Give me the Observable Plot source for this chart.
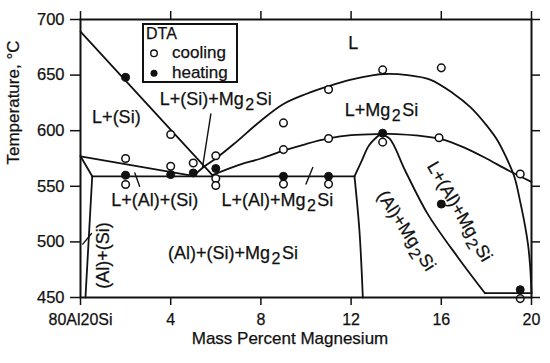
<!DOCTYPE html>
<html><head><meta charset="utf-8">
<script src="https://cdn.jsdelivr.net/npm/d3@7"></script>
<script src="https://cdn.jsdelivr.net/npm/@observablehq/plot@0.6"></script>
<style>
body{margin:0;background:#fff;}
#wrap{position:relative;width:550px;height:363px;font-family:"Liberation Sans",Arial,sans-serif;}
#legend{position:absolute;left:142px;top:23px;}
#wrap text{stroke:#111;stroke-width:0.25px;}
</style>
</head><body>
<div id="wrap"></div>
<script>
// ---- axes ----
const xTicks = [0, 4, 8, 12, 16, 20];
const xTickLabels = ["80Al20Si", "4", "8", "12", "16", "20"];
const yTicks = [450, 500, 550, 600, 650, 700];
const xTitle = "Mass Percent Magnesium";
const yTitle = "Temperature, °C";

// ---- phase boundaries [mass % Mg, °C] ----
const siLiquidus = [[0, 689], [5.85, 560]];
const alSiTrough = [[0, 577], [4.8, 560]];
const leftSolidus = [[0, 577], [0.52, 559]];
const alSiSolvus = [[0.52, 559], [0.22, 450]];
const eutecticLine = [[0.52, 559], [12.15, 559]];
const mg2siLiquidus = [[5.1, 561], [5.5, 568], [6, 575], [6.8, 588], [8, 609], [9, 624], [10, 633], [11, 640], [12, 646], [13, 650], [13.5, 651], [14.5, 650], [15.5, 646], [16.5, 634], [17.3, 621], [18, 605], [18.5, 591], [18.9, 575], [19.25, 558], [19.5, 536], [19.7, 516], [19.85, 497], [19.94, 478], [20, 454]];
const mg2siTrough = [[5.85, 560], [7, 569], [8, 575], [9, 582], [10, 588], [11, 593], [12, 596], [13.3, 597], [14, 597], [15, 595.5], [16, 592.5], [17, 585], [18, 575], [19, 564], [20, 554]];
const peakLeft = [[12.15, 559], [12.45, 572], [12.8, 587], [13.3, 597]];
const peakRight = [[13.3, 597], [13.7, 593], [14.4, 564], [15.4, 525], [16.74, 486], [17.93, 454]];
const alMg2siSolvus = [[12.15, 559], [12.37, 510], [12.52, 450]];
const bottomRight = [[17.93, 454], [20, 454]];
const pointers = [
  [[5.78, 615], [5.41, 567]],
  [[2.41, 562], [2.62, 550]],
  [[10.3, 567], [10.0, 552]],
  [[0.1, 498], [0.49, 507.5]]
];

// ---- DTA data ----
const coolingX = [2, 2, 4, 4, 5, 6, 6, 6, 9, 9, 9, 11, 11, 11, 13.4, 13.4, 16, 15.9, 19.5, 19.5];
const coolingT = [575, 551.6, 596.6, 568, 571, 577.5, 557, 550.7, 607, 583, 552, 637, 593, 552, 654.7, 589.7, 656.5, 593.6, 561, 449];
const heatingX = [2, 2, 4, 5, 6, 9, 11, 13.4, 16, 19.5];
const heatingT = [648, 560, 560.5, 562, 566, 559, 559, 597.8, 534, 457];

// ---- region labels ----
const regionText = ["L", "L+Mg2Si", "L+(Si)", "L+(Si)+Mg2Si", "L+(Al)+(Si)", "L+(Al)+Mg2Si", "(Al)+(Si)+Mg2Si", "(Al)+(Si)", "(Al)+Mg2Si", "L+(Al)+Mg2Si"];
const regionX = [12.09, 13.35, 1.59, 6.0, 3.29, 8.73, 6.76, 1.03, 14.45, 16.81];
const regionT = [678.4, 618.2, 612.1, 628, 537.5, 537.5, 489.6, 487.8, 510, 527.3];
const regionAngle = [0, 0, 0, 0, 0, 0, 0, -90, 57, 60];

const legendTitle = "DTA";
const legendItems = ["cooling", "heating"];

const ink = "#111";
const cooling = coolingX.map((x, i) => ({x, t: coolingT[i]}));
const heating = heatingX.map((x, i) => ({x, t: heatingT[i]}));
const regions = regionText.map((s, i) => ({s, x: regionX[i], t: regionT[i], a: regionAngle[i]}));

const lw = 1.8;
const ln = (d, curve) => Plot.line(d, {x: p => p[0], y: p => p[1], stroke: ink, strokeWidth: lw, curve: curve || "linear"});

const chart = Plot.plot({
  width: 550, height: 363,
  marginLeft: 80, marginRight: 19, marginTop: 19, marginBottom: 66,
  style: {fontFamily: '"Liberation Sans", Arial, sans-serif', color: ink, background: "#fff"},
  x: {domain: [0, 20]},
  y: {domain: [450, 700]},
  marks: [
    ln(siLiquidus), ln(alSiTrough), ln(leftSolidus), ln(alSiSolvus), ln(eutecticLine),
    ln(mg2siLiquidus, "catmull-rom"), ln(mg2siTrough, "catmull-rom"),
    ln(peakLeft, "catmull-rom"), ln(peakRight, "catmull-rom"), ln(alMg2siSolvus, "catmull-rom"),
    ln(bottomRight),
    ...pointers.map(p => Plot.line(p, {x: q => q[0], y: q => q[1], stroke: ink, strokeWidth: 1.4})),
    Plot.dot(cooling, {x: "x", y: "t", r: 3.8, fill: "#fff", stroke: ink, strokeWidth: 1.5}),
    Plot.dot(heating, {x: "x", y: "t", r: 4, fill: ink, stroke: ink, strokeWidth: 1}),
    Plot.text(regions, {x: "x", y: "t", text: "s", rotate: "a", fontSize: 18, fill: ink}),
    Plot.frame({stroke: ink, strokeWidth: 2}),
    Plot.axisY(yTicks, {anchor: "left", tickSize: 10, tickPadding: 6, fontSize: 16.5, strokeWidth: 1.5, label: null}),
    Plot.axisY(yTicks, {anchor: "right", tickSize: 8, tickFormat: () => "", strokeWidth: 1.5, label: null}),
    Plot.axisX(xTicks, {anchor: "bottom", tickSize: 8, tickPadding: 8, fontSize: 16, strokeWidth: 1.5, label: null,
      tickFormat: d => xTickLabels[xTicks.indexOf(d)]}),
    Plot.axisX(xTicks, {anchor: "top", tickSize: 9, tickFormat: () => "", strokeWidth: 1.5, label: null}),
    Plot.text([yTitle], {frameAnchor: "left", dx: -67, dy: 6, rotate: -90, fontSize: 17, fill: ink}),
    Plot.text([xTitle], {frameAnchor: "bottom", dx: -16, dy: 46, fontSize: 17, fill: ink})
  ]
});

// subscripts for Mg2Si
const NS = "http://www.w3.org/2000/svg";
chart.querySelectorAll("text").forEach(t => {
  const s = t.textContent;
  if (!s.includes("Mg2Si")) return;
  const pre = s.split("Mg2Si")[0];
  t.textContent = "";
  t.appendChild(document.createTextNode(pre + "Mg"));
  const sub = document.createElementNS(NS, "tspan");
  sub.setAttribute("dy", "5"); sub.setAttribute("dx", "1.5"); sub.setAttribute("font-size", "16");
  sub.textContent = "2";
  const rest = document.createElementNS(NS, "tspan");
  rest.setAttribute("dy", "-5"); rest.setAttribute("dx", "1.5");
  rest.textContent = "Si";
  t.appendChild(sub); t.appendChild(rest);
});

const wrap = document.getElementById("wrap");
wrap.appendChild(chart);

// legend
const leg = document.createElementNS(NS, "svg");
leg.setAttribute("id", "legend");
leg.setAttribute("width", 96); leg.setAttribute("height", 60);
leg.style.fontFamily = '"Liberation Sans", Arial, sans-serif';
leg.innerHTML = `<rect x="1" y="1" width="94" height="58" fill="#fff" stroke="${ink}" stroke-width="2"/>
<text x="4" y="16.3" font-size="16" fill="${ink}">${legendTitle}</text>
<circle cx="12" cy="30.3" r="3.3" fill="#fff" stroke="${ink}" stroke-width="1.4"/>
<text x="30" y="35" font-size="17" fill="${ink}">${legendItems[0]}</text>
<circle cx="12" cy="50.3" r="3.5" fill="${ink}"/>
<text x="30" y="55" font-size="17" fill="${ink}">${legendItems[1]}</text>`;
wrap.appendChild(leg);
</script>
</body></html>
